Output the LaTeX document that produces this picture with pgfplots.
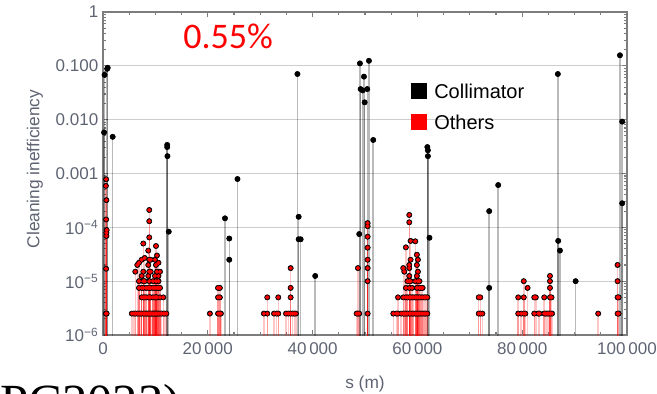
\documentclass[border=0pt]{standalone}
\usepackage{pgfplots}
\pgfplotsset{compat=1.18}
\usepackage{pgfplotstable}
\usepackage{fontspec}
\setmainfont{Liberation Sans}
\newfontfamily\slidefont{Carlito}
\newfontfamily\seriffont{Liberation Serif}

\definecolor{labelgray}{RGB}{95,100,115}
\definecolor{framegray}{RGB}{125,125,125}
\definecolor{gridgray}{RGB}{205,205,205}

% losses on collimators
\pgfplotstableread{
s v
300 0.068
800 0.088
900 0.092
200 0.0058
1850 0.0048
12250 0.0034
12250 0.0031
12300 0.0021
12550 8.3e-5
23280 1.47e-4
24100 6.2e-5
24100 2.5e-5
25660 7.9e-4
37100 0.0705
37340 1.57e-4
37340 6.0e-5
37720 6.0e-5
40500 1.25e-5
48900 7.5e-5
49030 0.111
49170 0.037
49550 0.035
49800 0.063
49930 0.021
50430 0.037
50750 0.124
51570 0.0042
61900 0.0031
62000 0.0027
62000 0.0021
62300 6.4e-5
73700 2.0e-4
73700 7.5e-6
75420 6.1e-4
86800 0.0705
86870 5.6e-5
87200 3.7e-5
90200 1.0e-5
98650 0.157
99080 0.0092
99080 2.8e-4
}\collimator

% losses on all other elements
\pgfplotstableread{
s v
550 2.5e-6
600 1.7e-5
650 6.9e-5
650 7.9e-5
700 8.9e-5
600 1.4e-4
650 3.2e-4
550 5.9e-4
600 7.8e-4
700 2.5e-6
5500 2.5e-6
5900 2.5e-6
6160 2.5e-6
6160 1.5e-5
6540 2.5e-6
6540 2.0e-5
6870 2.5e-6
6870 2.2e-5
6870 1.0e-5
6870 7.5e-6
7100 2.5e-6
7380 2.5e-6
7380 2.5e-5
7380 1.25e-5
7380 7.5e-6
7380 5e-6
7690 2.5e-6
7690 5e-5
7690 1.5e-5
7690 1e-5
7690 7.5e-6
7690 5e-6
7960 2.5e-6
7960 2.7e-5
7960 1e-5
7960 5e-6
8200 2.5e-6
8200 7.5e-6
8200 5e-6
8420 2.5e-6
8640 2.5e-6
8640 3.7e-5
8640 2e-5
8640 1.25e-5
8640 7.5e-6
8640 5e-6
8830 2.5e-6
8830 2.1e-4
8830 1.3e-4
8830 6.5e-5
8830 2.5e-5
8830 1.5e-5
8830 1e-5
8830 7.5e-6
8830 5e-6
9100 2.5e-6
9100 2.5e-5
9100 1.5e-5
9100 7.5e-6
9100 5e-6
9320 2.5e-6
9540 2.5e-6
9540 1e-5
9540 7.5e-6
9540 5e-6
9730 2.5e-6
9920 2.5e-6
9920 2.5e-5
9920 1.25e-5
9920 7.5e-6
9920 5e-6
10110 2.5e-6
10110 4.5e-5
10110 2e-5
10110 1e-5
10110 5e-6
10300 2.5e-6
10300 3e-5
10300 1.5e-5
10300 7.5e-6
10300 5e-6
10590 2.5e-6
10590 2.2e-5
10590 1.25e-5
10590 1e-5
10590 7.5e-6
10880 2.5e-6
10880 1.5e-5
10880 7.5e-6
10880 5e-6
11200 2.5e-6
11500 2.5e-6
11500 5e-6
11800 2.5e-6
12100 2.5e-6
20400 2.5e-6
21950 2.5e-6
21950 5e-6
21950 7.5e-6
22300 2.5e-6
22300 5e-6
22300 7.5e-6
22500 2.5e-6
30700 2.5e-6
31350 2.5e-6
31350 5e-6
32630 2.5e-6
33140 2.5e-6
33450 2.5e-6
33450 5e-6
34920 2.5e-6
35360 2.5e-6
35810 2.5e-6
35810 5e-6
35810 7.5e-6
35810 1.75e-5
36190 2.5e-6
36500 2.5e-6
36820 2.5e-6
48400 2.5e-6
48650 2.5e-6
48650 1.75e-5
48900 2.5e-6
50500 2.5e-6
50500 1.0e-5
50500 1.75e-5
50500 2.5e-5
50500 4.2e-5
50500 6.7e-5
50500 1.05e-4
50500 1.2e-4
55400 2.5e-6
56000 2.5e-6
56300 2.5e-6
56300 5e-6
56900 2.5e-6
57300 2.5e-6
57300 5e-6
57300 1.75e-5
57500 2.5e-6
57500 1.5e-5
57800 2.5e-6
57800 5e-6
57800 7.5e-6
57800 4.25e-5
58100 2.5e-6
58100 5e-6
58100 1e-5
58450 2.5e-6
58450 5e-6
58450 7.5e-6
58450 1e-5
58450 1.25e-5
58450 1.75e-5
58450 2e-5
58450 1.24e-4
58450 1.7e-4
58700 2.5e-6
58700 5e-6
58700 1e-5
58700 2.5e-5
58700 5.6e-5
59000 2.5e-6
59000 5e-6
59000 7.5e-6
59300 2.5e-6
59300 5e-6
59600 2.5e-6
59600 5e-6
59600 1e-5
59600 5.5e-5
59900 2.5e-6
59900 5e-6
59900 7.5e-6
59900 1.25e-5
59900 2e-5
59900 3.1e-5
60100 2.5e-6
60100 5e-6
60100 1e-5
60100 1.5e-5
60100 2.5e-5
60400 2.5e-6
60400 5e-6
60400 7.5e-6
60400 1e-5
60700 2.5e-6
60700 5e-6
60700 7.5e-6
61000 2.5e-6
61000 5e-6
61000 7.5e-6
61300 2.5e-6
61300 5e-6
61600 2.5e-6
61600 5e-6
61900 2.5e-6
61900 5e-6
71700 2.5e-6
71700 5e-6
72000 2.5e-6
72000 5e-6
72400 2.5e-6
79240 2.5e-6
79240 5e-6
79800 2.5e-6
80300 2.5e-6
80300 5e-6
80300 1e-5
80600 2.5e-6
81030 7.5e-6
82300 5e-6
82300 2.5e-6
82600 5e-6
83060 2.5e-6
83300 2.5e-6
84200 5e-6
84200 2.5e-6
84500 2.5e-6
84800 2.5e-6
85100 2.5e-6
85300 1.25e-5
85300 1e-5
85300 7.5e-6
85300 5e-6
85400 2.5e-6
85600 5e-6
85700 2.5e-6
94500 2.5e-6
98200 2.5e-6
98200 5e-6
98200 1e-5
98200 2e-5
98400 2.5e-6
98400 5e-6
}\others

\begin{document}
\begin{tikzpicture}
\begin{axis}[
  at={(77.25pt,43.5pt)}, anchor=south west,
  scale only axis, width=393pt, height=242.25pt,
  ymode=log,
  xmin=0, xmax=100000, ymin=1e-6, ymax=1,
  clip=true,
  axis line style={framegray, line width=0.9pt},
  tick align=inside,
  major tick length=4pt, minor tick length=2.2pt,
  every tick/.style={framegray, line width=0.8pt},
  xtick={0,20000,40000,60000,80000,100000},
  xticklabels={0,20\,000,40\,000,60\,000,80\,000,100\,000},
  minor xtick={5000,10000,15000,25000,30000,35000,45000,50000,55000,65000,70000,75000,85000,90000,95000},
  scaled x ticks=false,
  ytick={1e-6,1e-5,1e-4,1e-3,1e-2,1e-1,1},
  yticklabels={10\textsuperscript{−6},10\textsuperscript{−5},10\textsuperscript{−4},0.001,0.010,0.100,1},
  minor ytick={2e-6,3e-6,4e-6,5e-6,6e-6,7e-6,8e-6,9e-6,
               2e-5,3e-5,4e-5,5e-5,6e-5,7e-5,8e-5,9e-5,
               2e-4,3e-4,4e-4,5e-4,6e-4,7e-4,8e-4,9e-4,
               2e-3,3e-3,4e-3,5e-3,6e-3,7e-3,8e-3,9e-3,
               2e-2,3e-2,4e-2,5e-2,6e-2,7e-2,8e-2,9e-2,
               0.2,0.3,0.4,0.5,0.6,0.7,0.8,0.9},
  ymajorgrids,
  major grid style={gridgray, line width=0.8pt},
  ticklabel style={font=\fontsize{12.75}{14}\selectfont, text=labelgray},
  xticklabel style={yshift=-2.5pt},
]
% stems of the collimator losses
\addplot[only marks, mark=none,
  error bars/.cd, y dir=minus, y fixed relative=0.99999999, error mark=none,
  error bar style={draw=black, draw opacity=0.27, line width=1.1pt}]
  table[x=s, y=v] {\collimator};
% stems of the other losses
\addplot[only marks, mark=none,
  error bars/.cd, y dir=minus, y fixed relative=0.99999999, error mark=none,
  error bar style={draw=red, draw opacity=0.22, line width=1.1pt}]
  table[x=s, y=v] {\others};
% loss points
\addplot[only marks, mark=*, mark size=1.6pt,
  mark options={draw=black, fill=black}] table[x=s, y=v] {\collimator};
\addplot[only marks, mark=*, mark size=1.35pt,
  mark options={draw=red, fill=red}] table[x=s, y=v] {\others};
\end{axis}

% axis titles
\node[rotate=90, text=labelgray, font=\fontsize{13}{15}\selectfont] at (26.25pt,168pt) {Cleaning inefficiency};
\node[text=labelgray, font=\fontsize{13}{15}\selectfont] at (273.75pt,7.1pt) {s (m)};

% legend
\fill[black] (308.25pt,220.5pt) rectangle (320.25pt,232.5pt);
\fill[red] (308.25pt,197.25pt) rectangle (320.25pt,209.25pt);
\node[anchor=west, inner sep=0pt, font=\fontsize{15}{17}\selectfont] at (325.5pt,226.5pt) {Collimator};
\node[anchor=west, inner sep=0pt, font=\fontsize{15}{17}\selectfont] at (325.5pt,203.25pt) {Others};

% overall loss fraction
\node[anchor=west, inner sep=0pt, text=red, font=\slidefont\fontsize{27}{30}\selectfont] at (137.25pt,267.4pt) {0.55\%};

% reference line of the slide below the chart
\node[anchor=base west, inner sep=0pt, font=\seriffont\fontsize{38}{42}\selectfont] at (0pt,-20pt) {PC2023)};

\pgfresetboundingbox
\useasboundingbox (0pt,0pt) rectangle (492.75pt,294.75pt);
\end{tikzpicture}
\end{document}
